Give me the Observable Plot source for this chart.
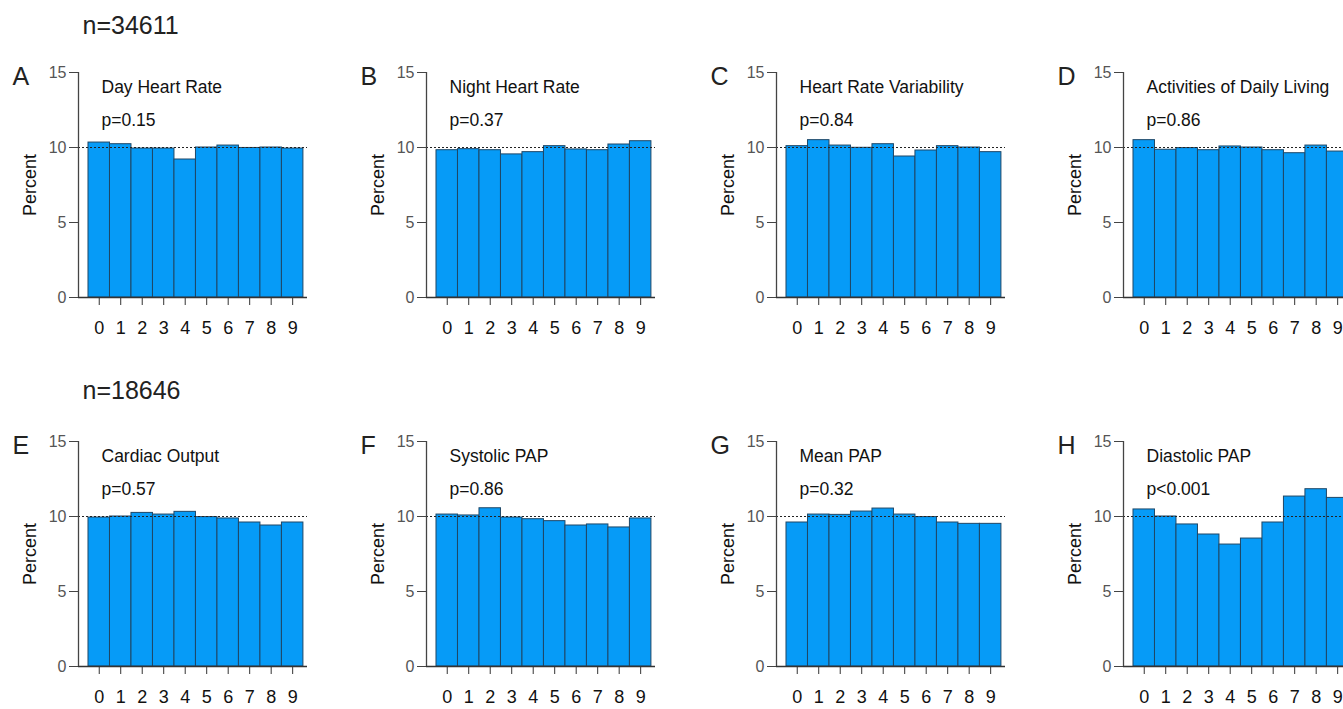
<!DOCTYPE html>
<html>
<head>
<meta charset="utf-8">
<script src="https://cdn.jsdelivr.net/npm/d3@7"></script>
<script src="https://cdn.jsdelivr.net/npm/@observablehq/plot@0.6"></script>
<style>
  html, body { margin: 0; padding: 0; background: #fff; overflow: hidden; width: 1343px; height: 709px; }
  .panel { position: absolute; }
  .panel svg { max-width: none !important; background: transparent !important; overflow: visible; }
</style>
</head>
<body>
<div id="root"></div>
<script>
// ---- data ----
const categories = [0, 1, 2, 3, 4, 5, 6, 7, 8, 9];
const yTicks = [0, 5, 10, 15];
const panelLetters = ["A", "B", "C", "D", "E", "F", "G", "H"];
const panelTitles = ["Day Heart Rate", "Night Heart Rate", "Heart Rate Variability", "Activities of Daily Living",
                     "Cardiac Output", "Systolic PAP", "Mean PAP", "Diastolic PAP"];
const pValues = ["p=0.15", "p=0.37", "p=0.84", "p=0.86", "p=0.57", "p=0.86", "p=0.32", "p<0.001"];
const sampleSizes = ["n=34611", "n=18646"];
const referenceLevel = 10;

const dayHeartRate        = [10.33, 10.22, 9.93, 9.93, 9.20, 10.00, 10.13, 9.97, 10.00, 9.93];
const nightHeartRate      = [9.82, 9.89, 9.82, 9.54, 9.69, 10.09, 9.87, 9.82, 10.20, 10.42];
const heartRateVariability= [10.09, 10.49, 10.13, 9.98, 10.22, 9.40, 9.80, 10.09, 10.00, 9.69];
const activitiesDaily     = [10.49, 9.85, 9.96, 9.82, 10.07, 10.00, 9.82, 9.62, 10.13, 9.73];
const cardiacOutput       = [9.93, 10.00, 10.24, 10.13, 10.31, 9.96, 9.87, 9.60, 9.40, 9.60];
const systolicPAP         = [10.13, 10.07, 10.55, 9.93, 9.82, 9.69, 9.40, 9.47, 9.27, 9.87];
const meanPAP             = [9.60, 10.13, 10.11, 10.33, 10.53, 10.13, 9.96, 9.60, 9.51, 9.51];
const diastolicPAP        = [10.47, 10.00, 9.47, 8.80, 8.13, 8.53, 9.60, 11.33, 11.82, 11.24];

const seriesList = [dayHeartRate, nightHeartRate, heartRateVariability, activitiesDaily,
                    cardiacOutput, systolicPAP, meanPAP, diastolicPAP];

// ---- layout ----
const axisLeftX = [78, 426, 776, 1123];
const rowTopY = [0, 369];
const FONT = "'Liberation Sans', Arial, Helvetica, sans-serif";
const xDomain = [-0.965, 9.69];

const root = document.getElementById("root");

seriesList.forEach((vals, i) => {
  const col = i % 4, row = Math.floor(i / 4);
  const data = categories.map((c, k) => ({bin: c, pct: vals[k]}));
  const marks = [
    Plot.rectY(data, {x1: d => d.bin - 0.5, x2: d => d.bin + 0.5, y: "pct",
      fill: "#069bf7", stroke: "#1f4766", strokeWidth: 1}),
    Plot.ruleY([referenceLevel], {stroke: "#222", strokeDasharray: "2,2", strokeWidth: 1}),
    Plot.ruleY([0], {stroke: "#333", strokeWidth: 1.3}),
    Plot.ruleX([xDomain[0]], {y1: 0, y2: 15, stroke: "#444", strokeWidth: 1.3}),
    Plot.axisY({ticks: yTicks, tickSize: 9, tickPadding: 3, fontSize: 16, fill: "#555", stroke: "#444", label: null}),
    Plot.axisX({ticks: categories, tickSize: 8, tickPadding: 16, fontSize: 18, fill: "#111", stroke: "#333", label: null}),
    Plot.text([panelLetters[i]], {frameAnchor: "top-left", dx: -66, dy: 12, lineAnchor: "bottom",
      textAnchor: "start", fontSize: 25, fill: "#222"}),
    Plot.text([panelTitles[i]], {frameAnchor: "top-left", dx: 23, dy: 20.5, lineAnchor: "bottom",
      textAnchor: "start", fontSize: 17.5, fill: "#111"}),
    Plot.text([pValues[i]], {frameAnchor: "top-left", dx: 23, dy: 53, lineAnchor: "bottom",
      textAnchor: "start", fontSize: 17.5, fill: "#111"}),
    Plot.text(["Percent"], {frameAnchor: "left", dx: -48, rotate: -90, lineAnchor: "middle",
      textAnchor: "middle", fontSize: 18, fill: "#111"})
  ];
  if (col === 0) {
    marks.push(Plot.text([sampleSizes[row]], {frameAnchor: "top-left", dx: 4, dy: row === 0 ? -38.5 : -43,
      lineAnchor: "bottom", textAnchor: "start", fontSize: 25, fill: "#222"}));
  }
  const chart = Plot.plot({
    width: 317,
    height: 347,
    marginLeft: 78,
    marginRight: 10,
    marginTop: 72,
    marginBottom: 50,
    style: {fontFamily: FONT, fontSize: "16px", background: "transparent", overflow: "visible"},
    x: {type: "linear", domain: xDomain},
    y: {domain: [0, 15]},
    marks
  });
  const div = document.createElement("div");
  div.className = "panel";
  div.style.left = (axisLeftX[col] - 78) + "px";
  div.style.top = rowTopY[row] + "px";
  div.appendChild(chart);
  root.appendChild(div);
});
</script>
</body>
</html>
